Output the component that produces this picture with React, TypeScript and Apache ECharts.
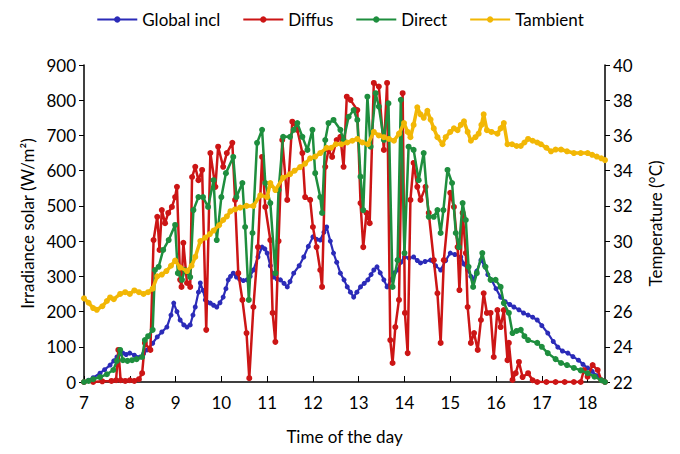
import React, { useEffect, useRef } from "react";
import * as echarts from "echarts";

const seriesNames = ["Global incl", "Diffus", "Direct", "Tambient"];
const xTicks = [7, 8, 9, 10, 11, 12, 13, 14, 15, 16, 17, 18];

const globalIncl: number[][] = [
  [7.0, 0], [7.1, 5], [7.2, 12], [7.35, 25], [7.45, 35], [7.57, 48], [7.65, 60], [7.72, 71], [7.8, 80], [7.85, 82],
  [7.92, 78], [8.0, 82], [8.1, 76], [8.23, 71], [8.3, 80], [8.38, 91], [8.5, 110], [8.6, 128], [8.7, 142], [8.81, 156],
  [8.9, 190], [8.96, 224], [9.03, 200], [9.1, 176], [9.18, 162], [9.25, 156], [9.32, 162], [9.38, 190], [9.43, 213],
  [9.5, 255], [9.54, 281], [9.6, 260], [9.65, 233], [9.7, 226], [9.76, 224], [9.83, 218], [9.9, 213], [9.97, 225],
  [10.04, 241], [10.1, 265], [10.15, 290], [10.2, 300], [10.26, 309], [10.33, 298], [10.4, 292], [10.48, 288],
  [10.56, 290], [10.63, 300], [10.7, 318], [10.8, 355], [10.89, 383], [10.95, 378], [11.0, 366], [11.07, 330],
  [11.14, 298], [11.22, 292], [11.29, 290], [11.37, 280], [11.44, 270], [11.5, 285], [11.58, 309], [11.7, 330],
  [11.8, 355], [11.9, 385], [12.0, 412], [12.08, 405], [12.16, 403], [12.24, 425], [12.3, 440], [12.38, 400],
  [12.45, 366], [12.52, 340], [12.6, 309], [12.68, 290], [12.75, 270], [12.82, 255], [12.89, 241], [12.96, 255],
  [13.04, 270], [13.12, 280], [13.2, 290], [13.27, 305], [13.33, 318], [13.4, 327], [13.47, 310], [13.55, 290],
  [13.62, 270], [13.7, 290], [13.78, 310], [13.85, 318], [13.92, 340], [14.0, 355], [14.1, 352], [14.2, 355],
  [14.28, 345], [14.35, 338], [14.45, 342], [14.57, 346], [14.68, 330], [14.79, 318], [14.9, 345], [15.0, 366],
  [15.1, 362], [15.23, 355], [15.3, 335], [15.38, 318], [15.45, 300], [15.5, 290], [15.58, 315], [15.67, 346],
  [15.75, 330], [15.82, 305], [15.9, 290], [16.0, 265], [16.1, 241], [16.2, 228], [16.3, 220], [16.39, 213],
  [16.5, 205], [16.6, 196], [16.7, 190], [16.8, 184], [16.9, 176], [17.0, 160], [17.13, 139], [17.25, 115],
  [17.35, 99], [17.45, 88], [17.57, 82], [17.68, 72], [17.8, 62], [17.9, 50], [18.0, 40], [18.1, 30], [18.2, 18],
  [18.3, 6], [18.38, 0],
];

const diffus: number[][] = [
  [7.0, 0], [7.2, 0], [7.4, 2], [7.6, 3], [7.7, 5], [7.75, 91], [7.8, 5], [7.9, 3], [8.0, 5], [8.1, 3], [8.2, 8],
  [8.27, 25], [8.33, 111], [8.45, 91], [8.52, 403], [8.6, 469], [8.65, 375], [8.7, 488], [8.77, 451], [8.84, 480],
  [8.92, 497], [8.99, 525], [9.03, 554], [9.1, 290], [9.13, 270], [9.17, 395], [9.25, 281], [9.32, 270], [9.36, 582],
  [9.43, 611], [9.5, 573], [9.58, 602], [9.67, 148], [9.76, 650], [9.87, 554], [9.93, 668], [10.04, 611],
  [10.12, 650], [10.24, 679], [10.3, 517], [10.37, 309], [10.46, 233], [10.55, 139], [10.61, 11], [10.7, 213],
  [10.8, 383], [10.89, 639], [10.96, 497], [11.07, 403], [11.12, 196], [11.18, 114], [11.25, 400], [11.33, 687],
  [11.44, 517], [11.55, 739], [11.66, 716], [11.77, 650], [11.83, 525], [11.94, 517], [12.0, 440], [12.08, 383],
  [12.16, 318], [12.2, 270], [12.27, 611], [12.34, 659], [12.42, 639], [12.52, 687], [12.6, 696], [12.67, 611],
  [12.74, 810], [12.82, 801], [12.97, 772], [13.04, 508], [13.1, 383], [13.17, 480], [13.24, 451], [13.33, 849],
  [13.44, 839], [13.55, 659], [13.62, 849], [13.69, 119], [13.74, 54], [13.8, 156], [13.88, 233], [13.96, 820],
  [14.01, 196], [14.07, 82], [14.13, 517], [14.2, 622], [14.28, 554], [14.35, 517], [14.46, 554], [14.53, 480],
  [14.64, 346], [14.72, 252], [14.79, 111], [14.86, 346], [15.0, 537], [15.08, 497], [15.16, 383], [15.2, 261],
  [15.27, 480], [15.34, 366], [15.38, 213], [15.45, 111], [15.52, 139], [15.6, 91], [15.67, 176], [15.73, 252],
  [15.8, 196], [15.88, 196], [15.95, 71], [16.03, 204], [16.1, 156], [16.17, 204], [16.25, 62], [16.28, 111],
  [16.36, 6], [16.43, 25], [16.5, 57], [16.58, 14], [16.7, 25], [16.8, 5], [16.9, 0], [17.1, 0], [17.3, 0],
  [17.5, 0], [17.7, 0], [17.85, 0], [17.92, 34], [18.0, 15], [18.11, 48], [18.22, 34], [18.3, 5], [18.38, 0],
];

const direct: number[][] = [
  [7.0, 0], [7.1, 3], [7.2, 8], [7.35, 14], [7.5, 22], [7.64, 34], [7.72, 60], [7.79, 91], [7.85, 62], [7.95, 60],
  [8.05, 62], [8.15, 65], [8.27, 71], [8.33, 119], [8.4, 130], [8.5, 148], [8.55, 318], [8.63, 327], [8.73, 375],
  [8.85, 403], [8.99, 446], [9.05, 309], [9.14, 290], [9.2, 318], [9.32, 298], [9.39, 488], [9.5, 525], [9.6, 525],
  [9.71, 497], [9.83, 573], [9.9, 403], [10.0, 525], [10.1, 593], [10.26, 639], [10.33, 525], [10.46, 565],
  [10.52, 440], [10.6, 233], [10.68, 423], [10.78, 679], [10.89, 716], [10.96, 565], [11.07, 508], [11.18, 309],
  [11.25, 545], [11.35, 696], [11.5, 696], [11.58, 716], [11.66, 735], [11.77, 696], [11.88, 659], [11.99, 716],
  [12.05, 593], [12.16, 525], [12.2, 480], [12.27, 687], [12.34, 735], [12.45, 744], [12.6, 716], [12.67, 687],
  [12.78, 753], [12.89, 772], [12.97, 744], [13.04, 583], [13.1, 488], [13.19, 810], [13.26, 668], [13.37, 820],
  [13.44, 782], [13.55, 687], [13.65, 791], [13.74, 270], [13.85, 346], [13.92, 801], [14.0, 366], [14.09, 668],
  [14.2, 659], [14.31, 573], [14.42, 650], [14.53, 469], [14.64, 469], [14.72, 488], [14.79, 423], [14.85, 488],
  [14.94, 602], [15.04, 565], [15.12, 423], [15.19, 383], [15.27, 508], [15.34, 460], [15.4, 327], [15.5, 270],
  [15.58, 309], [15.7, 366], [15.77, 327], [15.88, 290], [15.99, 290], [16.1, 270], [16.17, 224], [16.28, 196],
  [16.36, 139], [16.45, 145], [16.54, 148], [16.62, 130], [16.7, 119], [16.9, 111], [17.0, 100], [17.13, 82],
  [17.3, 65], [17.42, 54], [17.55, 48], [17.7, 40], [17.85, 33], [18.0, 25], [18.15, 15], [18.3, 5], [18.38, 0],
];

const tambient: number[][] = [
  [7.0, 26.75], [7.1, 26.5], [7.2, 26.2], [7.28, 26.1], [7.4, 26.3], [7.5, 26.6], [7.57, 26.8], [7.65, 26.7],
  [7.79, 27.0], [7.9, 27.1], [8.0, 27.0], [8.1, 27.2], [8.2, 27.1], [8.3, 27.0], [8.4, 27.1], [8.5, 27.3],
  [8.6, 28.0], [8.7, 28.1], [8.8, 28.3], [8.9, 28.6], [8.99, 28.9], [9.1, 28.5], [9.25, 28.3], [9.35, 28.6],
  [9.43, 29.1], [9.54, 30.0], [9.65, 30.2], [9.75, 30.4], [9.83, 30.6], [9.95, 30.9], [10.04, 31.2], [10.12, 31.4],
  [10.2, 31.7], [10.3, 31.8], [10.41, 31.9], [10.55, 32.0], [10.7, 32.0], [10.85, 32.6], [11.0, 32.5],
  [11.07, 33.3], [11.18, 32.9], [11.35, 33.6], [11.5, 33.8], [11.6, 34.0], [11.72, 34.2], [11.83, 34.4],
  [11.94, 34.7], [12.05, 34.8], [12.16, 35.0], [12.3, 35.3], [12.4, 35.3], [12.5, 35.5], [12.62, 35.5],
  [12.75, 35.6], [12.86, 35.7], [12.97, 35.8], [13.08, 35.6], [13.2, 35.5], [13.33, 36.2], [13.44, 36.0],
  [13.55, 35.9], [13.66, 35.8], [13.77, 35.7], [13.88, 36.1], [13.99, 36.7], [14.07, 36.2], [14.13, 35.9],
  [14.2, 36.6], [14.28, 37.6], [14.35, 37.2], [14.42, 37.0], [14.5, 37.4], [14.57, 36.9], [14.64, 36.4],
  [14.72, 35.9], [14.83, 35.5], [14.9, 35.9], [15.0, 36.2], [15.08, 36.4], [15.16, 36.3], [15.23, 36.6],
  [15.3, 36.8], [15.38, 36.2], [15.45, 35.7], [15.55, 35.9], [15.62, 36.1], [15.68, 36.6], [15.73, 37.2],
  [15.8, 36.3], [15.9, 36.2], [16.03, 36.1], [16.1, 36.4], [16.17, 36.7], [16.25, 35.5], [16.35, 35.5],
  [16.45, 35.4], [16.54, 35.4], [16.62, 35.6], [16.7, 35.8], [16.8, 35.7], [16.9, 35.6], [16.98, 35.5],
  [17.1, 35.3], [17.2, 35.1], [17.3, 35.2], [17.42, 35.2], [17.55, 35.1], [17.7, 35.0], [17.85, 35.0],
  [18.0, 35.0], [18.1, 34.9], [18.2, 34.8], [18.3, 34.7], [18.38, 34.6],
];

const colors = ["#2B2BB8", "#CC1515", "#1E8E3E", "#F2B705"];
const FONT = "Lato, 'Open Sans', sans-serif";

export default function App() {
  const ref = useRef<HTMLDivElement>(null);
  useEffect(() => {
    if (!ref.current) return;
    const chart = echarts.init(ref.current, null, { renderer: "svg" });
    const datasets = [globalIncl, diffus, direct, tambient];
    const symbolSizes = [5, 6, 6, 6];
    const lineWidths = [2.2, 2.5, 2.5, 3.5];
    chart.setOption({
      animation: false,
      textStyle: { fontFamily: FONT },
      legend: {
        top: 6,
        left: "center",
        itemWidth: 40,
        itemHeight: 8,
        itemGap: 22,
        textStyle: { fontSize: 17, color: "#000", fontFamily: FONT },
        data: seriesNames,
      },
      grid: { left: 84, right: 75, top: 65, bottom: 72 },
      xAxis: {
        type: "value",
        min: 7,
        max: 18.38,
        interval: 1,
        name: "Time of the day",
        nameLocation: "middle",
        nameGap: 46,
        nameTextStyle: { fontSize: 17, color: "#000", fontFamily: FONT },
        axisLine: { lineStyle: { color: "#000", width: 1.5 } },
        axisTick: { inside: true, length: 6, lineStyle: { color: "#000" } },
        axisLabel: {
          fontSize: 17,
          color: "#000",
          margin: 12,
          showMaxLabel: false,
          formatter: (v: number) => (xTicks.indexOf(v) >= 0 ? String(v) : ""),
        },
        splitLine: { show: false },
      },
      yAxis: [
        {
          type: "value",
          min: 0,
          max: 900,
          interval: 100,
          name: "Irradiance solar (W/m²)",
          nameLocation: "middle",
          nameGap: 47,
          nameTextStyle: { fontSize: 17, color: "#000", fontFamily: FONT },
          axisLine: { show: true, lineStyle: { color: "#000", width: 1.5 } },
          axisTick: { show: true, length: 5, lineStyle: { color: "#000" } },
          axisLabel: { fontSize: 17, color: "#000", margin: 8 },
          splitLine: { show: false },
        },
        {
          type: "value",
          min: 22,
          max: 40,
          interval: 2,
          name: "Temperature (°C)",
          nameLocation: "middle",
          nameGap: 42,
          nameTextStyle: { fontSize: 17, color: "#000", fontFamily: FONT },
          axisLine: { show: true, lineStyle: { color: "#000", width: 1.5 } },
          axisTick: { show: true, length: 5, lineStyle: { color: "#000" } },
          axisLabel: { fontSize: 17, color: "#000", margin: 8 },
          splitLine: { show: false },
        },
      ],
      series: seriesNames.map((name, i) => ({
        name,
        type: "line",
        yAxisIndex: i === 3 ? 1 : 0,
        data: datasets[i],
        symbol: "circle",
        symbolSize: symbolSizes[i],
        showAllSymbol: true,
        lineStyle: { color: colors[i], width: lineWidths[i] },
        itemStyle: { color: colors[i] },
        z: 2 + i,
      })),
    });
    return () => chart.dispose();
  }, []);
  return <div ref={ref} style={{ width: 680, height: 454, margin: -8 }} />;
}
